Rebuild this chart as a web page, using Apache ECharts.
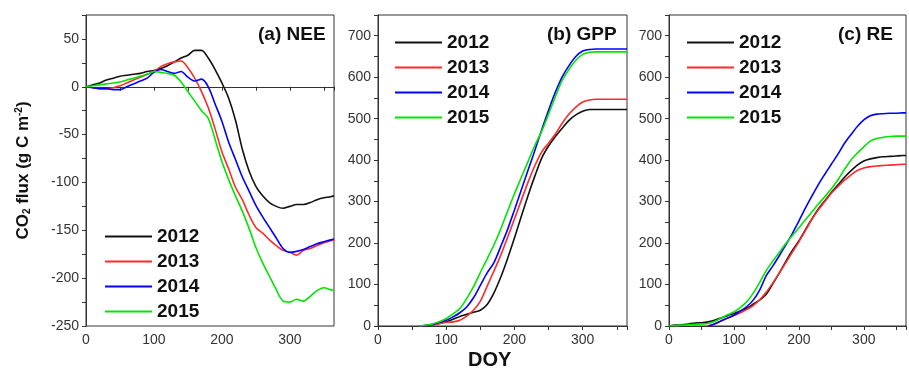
<!DOCTYPE html>
<html>
<head>
<meta charset="utf-8">
<script src="https://cdn.jsdelivr.net/npm/echarts@6/dist/echarts.min.js"></script>
<style>
  html, body { margin: 0; padding: 0; background: #fff; }
  #chart { width: 909px; height: 372px; }
</style>
</head>
<body>
<div id="chart"></div>
<script>
// day of year shared by all curves
const doy = [0, 10, 20, 30, 40, 50, 60, 70, 80, 90, 100, 110, 120, 130, 140, 150, 160, 170, 180,
  190, 200, 210, 220, 230, 240, 250, 260, 270, 280, 290, 300, 310, 320, 330, 340, 350, 360, 365];
const years = ['2012', '2013', '2014', '2015'];
const colors = ['#111111', '#ff2a2a', '#0000ff', '#00e600'];

// (a) NEE
const nee2012 = [0, 2, 4, 7, 9, 11, 12, 13, 14, 16, 17, 19, 22, 26, 30, 33, 38, 38, 30,
  18, 4, -12, -35, -65, -88, -104, -114, -121, -125, -127, -125, -123, -123, -121, -118, -116, -115, -114];
const nee2013 = [0, -1, -2, -2, -1, 1, 4, 7, 10, 13, 16, 21, 24, 26, 27, 20, 9, -5, -22,
  -44, -68, -86, -105, -118, -134, -147, -153, -160, -166, -171, -173, -176, -171, -169, -166, -163, -161, -160];
const nee2014 = [0, -1, -2, -2, -3, -3, 0, 3, 6, 9, 15, 18, 16, 14, 16, 10, 6, 8, 0,
  -18, -36, -58, -76, -94, -109, -124, -136, -147, -158, -169, -173, -172, -170, -167, -164, -162, -160, -159];
const nee2015 = [0, 1, 2, 3, 4, 5, 7, 9, 11, 13, 16, 15, 14, 12, 5, -5, -15, -25, -33,
  -55, -78, -97, -114, -130, -148, -168, -184, -198, -212, -224, -225, -222, -224, -219, -213, -210, -212, -213];

// (b) GPP
const gpp2012 = [null, null, null, null, null, null, 0, 1, 3, 6, 10, 16, 23, 28, 33, 38, 52, 80, 118,
  163, 212, 264, 315, 362, 405, 434, 457, 477, 496, 509, 518, 522, 522, 522, 522, 522, 522, 522];
const gpp2013 = [null, null, null, null, null, null, 0, 1, 3, 6, 9, 10, 14, 24, 38, 60, 96, 133, 171,
  214, 258, 303, 347, 387, 420, 441, 463, 489, 511, 528, 540, 545, 547, 547, 547, 547, 547, 547];
const gpp2014 = [null, null, null, null, null, null, 0, 1, 4, 9, 14, 22, 32, 46, 68, 98, 128, 153, 192,
  233, 280, 328, 376, 424, 473, 520, 564, 601, 628, 650, 663, 667, 668, 668, 668, 668, 668, 668];
const gpp2015 = [null, null, null, null, null, null, 0, 2, 5, 10, 18, 29, 42, 66, 95, 129, 162, 196, 234,
  277, 319, 358, 397, 436, 470, 511, 553, 592, 619, 641, 655, 660, 661, 661, 661, 661, 661, 661];

// (c) RE
const re2012 = [0, 2, 3, 5, 7, 8, 10, 14, 19, 25, 30, 36, 43, 53, 63, 77, 102, 128, 156,
  182, 205, 232, 258, 282, 302, 322, 340, 358, 374, 388, 398, 403, 406, 408, 409, 410, 411, 411];
const re2013 = [null, null, null, null, null, null, 0, 5, 12, 19, 25, 32, 40, 50, 64, 82, 104, 128, 153,
  178, 203, 230, 257, 280, 300, 320, 336, 351, 364, 375, 381, 384, 386, 387, 388, 389, 390, 390];
const re2014 = [null, null, null, null, null, null, 0, 5, 12, 19, 26, 36, 47, 63, 88, 122, 145, 170, 196,
  223, 253, 284, 313, 341, 366, 390, 414, 440, 461, 481, 497, 507, 511, 512, 513, 513, 514, 514];
const re2015 = [0, 1, 2, 3, 4, 5, 6, 11, 19, 27, 34, 45, 59, 80, 106, 134, 157, 178, 199,
  218, 237, 256, 275, 294, 312, 331, 352, 377, 400, 417, 432, 446, 452, 455, 457, 458, 458, 458];

const panels = [
  { title: '(a) NEE', data: [nee2012, nee2013, nee2014, nee2015] },
  { title: '(b) GPP', data: [gpp2012, gpp2013, gpp2014, gpp2015] },
  { title: '(c) RE', data: [re2012, re2013, re2014, re2015] }
];

const font = 'Arial, "Liberation Sans", sans-serif';
const grids = [
  { left: 86, top: 15, width: 248, height: 311 },
  { left: 378, top: 15, width: 249, height: 311 },
  { left: 669, top: 15, width: 248, height: 311 }
];

const axisBase = {
  axisLine: { show: true, lineStyle: { color: '#333', width: 1 } },
  axisTick: { show: true, length: 4, lineStyle: { color: '#333' } },
  splitLine: { show: false },
  axisLabel: { fontSize: 14, color: '#333', fontFamily: font, margin: 7 }
};

const xAxes = grids.map((g, i) => ({
  ...axisBase,
  type: 'value',
  gridIndex: i,
  min: 0,
  max: 365,
  interval: 50,
  axisLabel: { ...axisBase.axisLabel, formatter: v => (v % 100 === 0 ? String(v) : '') }
}));

const yAxes = [
  {
    ...axisBase, type: 'value', gridIndex: 0, min: -250, max: 75, interval: 25,
    axisLabel: { ...axisBase.axisLabel, formatter: v => (v % 50 === 0 ? String(v) : '') },
    name: '{b|CO}{s|2}{b| flux (g C m}{p|-2}{b|)}',
    nameLocation: 'middle',
    nameGap: 54,
    nameTextStyle: {
      rich: {
        b: { fontSize: 17, fontWeight: 'bold', color: '#111', fontFamily: font },
        s: { fontSize: 10, fontWeight: 'bold', color: '#111', fontFamily: font, padding: [8, 0, 0, 0] },
        p: { fontSize: 10, fontWeight: 'bold', color: '#111', fontFamily: font, padding: [0, 0, 8, 0] }
      }
    }
  },
  {
    ...axisBase, type: 'value', gridIndex: 1, min: 0, max: 750, interval: 50,
    axisLabel: { ...axisBase.axisLabel, formatter: v => (v % 100 === 0 && v < 750 ? String(v) : '') }
  },
  {
    ...axisBase, type: 'value', gridIndex: 2, min: 0, max: 750, interval: 50,
    axisLabel: { ...axisBase.axisLabel, formatter: v => (v % 100 === 0 && v < 750 ? String(v) : '') }
  }
];

const series = [];
panels.forEach((p, i) => {
  p.data.forEach((vals, k) => {
    series.push({
      name: years[k],
      type: 'line',
      xAxisIndex: i,
      yAxisIndex: i,
      symbol: 'none',
      smooth: 0.3,
      connectNulls: false,
      color: colors[k],
      lineStyle: { width: 1.6, color: colors[k] },
      data: doy.map((d, j) => [d, vals[j]])
    });
  });
});

const legendBase = {
  orient: 'vertical',
  data: years,
  icon: 'rect',
  itemWidth: 47,
  itemHeight: 2,
  itemGap: 6,
  selectedMode: false,
  textStyle: { fontSize: 19, fontWeight: 'bold', color: '#111', fontFamily: font }
};

const titleBase = { padding: 0, textStyle: { fontSize: 19, fontWeight: 'bold', color: '#111', fontFamily: font } };

const chart = echarts.init(document.getElementById('chart'));
chart.setOption({
  animation: false,
  backgroundColor: '#fff',
  title: [
    { ...titleBase, text: panels[0].title, left: 258, top: 25 },
    { ...titleBase, text: panels[1].title, left: 547, top: 25 },
    { ...titleBase, text: panels[2].title, left: 838, top: 25 }
  ],
  legend: [
    { ...legendBase, left: 100, top: 222 },
    { ...legendBase, left: 390, top: 28 },
    { ...legendBase, left: 682, top: 28 }
  ],
  grid: grids.map(g => ({ ...g, show: true, borderColor: '#333', borderWidth: 1, backgroundColor: 'transparent' })),
  xAxis: xAxes,
  yAxis: yAxes,
  series: series,
  graphic: [
    { type: 'text', left: 468, top: 350, style: { text: 'DOY', font: 'bold 20px ' + font, fill: '#111' } }
  ]
});
</script>
</body>
</html>
